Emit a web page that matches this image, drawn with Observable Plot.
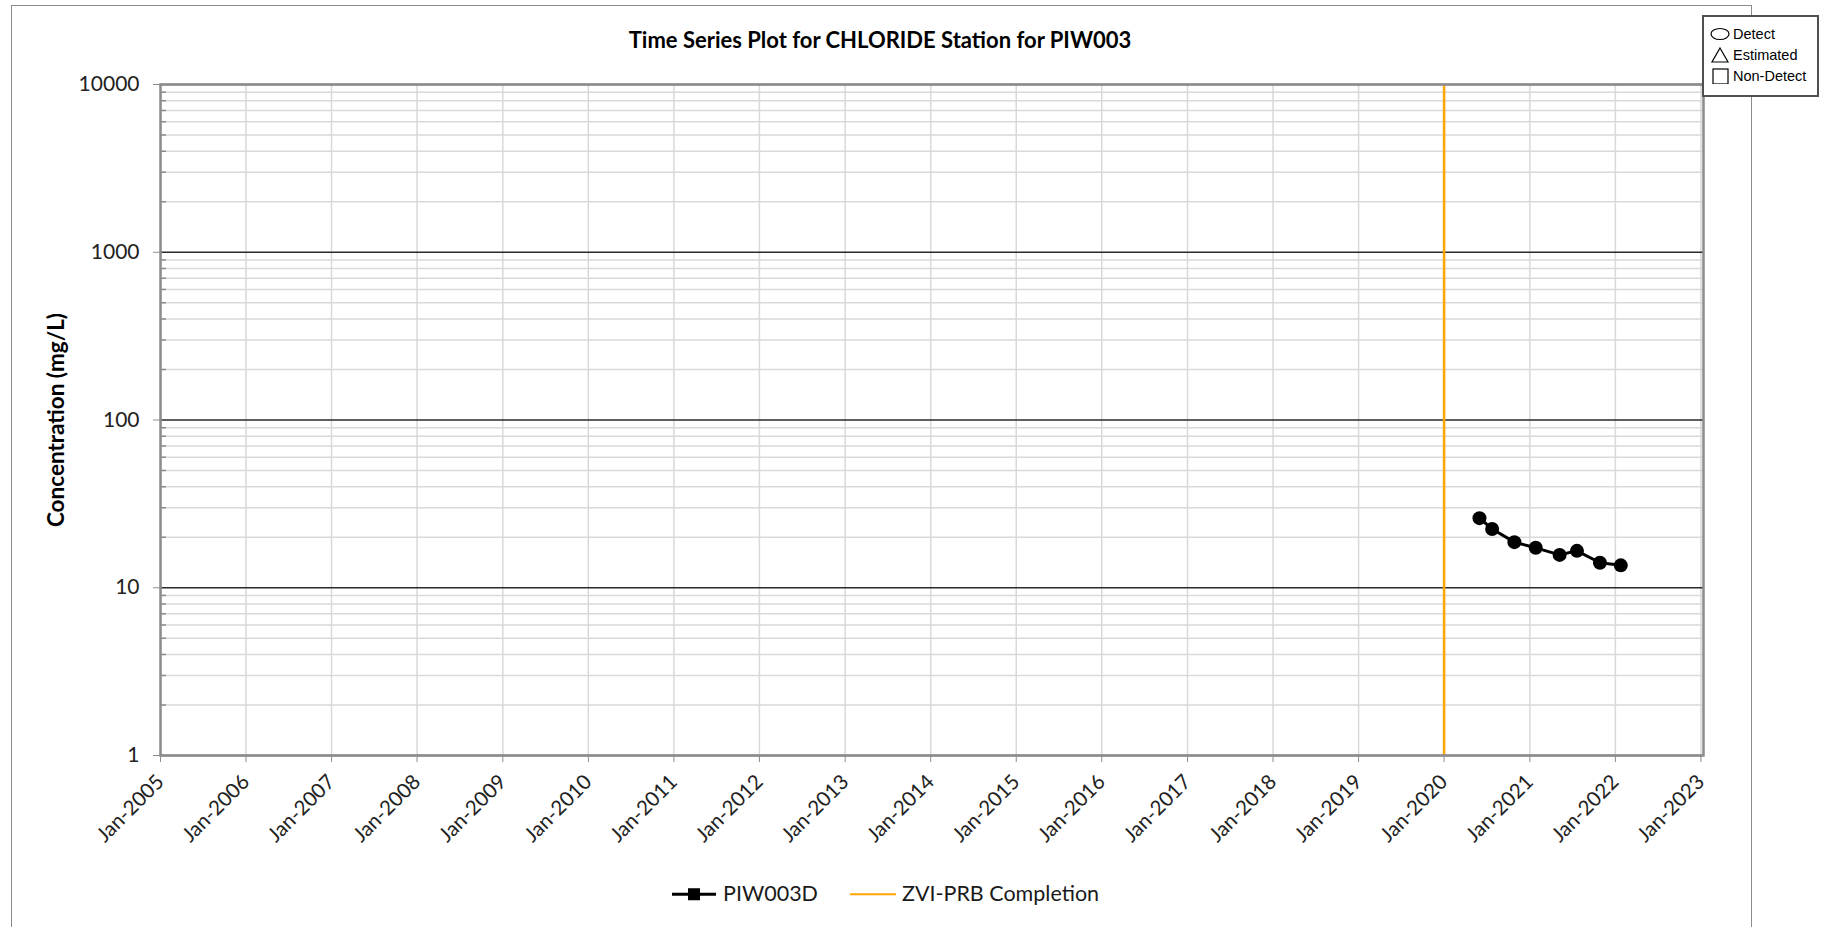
<!DOCTYPE html>
<html>
<head>
<meta charset="utf-8">
<script src="https://cdn.jsdelivr.net/npm/d3@7"></script>
<script src="https://cdn.jsdelivr.net/npm/@observablehq/plot@0.6"></script>
<style>
  html, body { margin: 0; padding: 0; background: #fff; width: 1829px; height: 927px; overflow: hidden; font-family: Lato, "Open Sans", sans-serif; }
  #wrap { position: relative; width: 1829px; height: 927px; }
  #chart { position: absolute; left: 0; top: 0; }
  #outer { position: absolute; left: 11px; top: 5px; width: 1741px; height: 940px; border: 1.5px solid #8c8c8c; box-sizing: border-box; }
  #title { position: absolute; left: 480px; width: 800px; top: 40px; transform: translateY(-50%); text-align: center; font-weight: 700; font-size: 22px; color: #000; line-height: 1; }
  #ylabel { position: absolute; left: 56px; top: 420px; transform: translate(-50%, -50%) rotate(-90deg); font-weight: 700; font-size: 22.5px; white-space: nowrap; color: #000; line-height: 1; }
  #keybox { position: absolute; left: 1702px; top: 15px; width: 117px; height: 82px; border: 2px solid #505050; box-sizing: border-box; background: #fff; font-family: "Liberation Sans", Arial, sans-serif; font-size: 14.5px; color: #000; }
  .krow { position: absolute; left: 6px; display: flex; align-items: center; gap: 3px; line-height: 1; }
  #legend { position: absolute; top: 894px; left: 671px; transform: translateY(-50%); display: flex; align-items: center; font-size: 21.5px; color: #1a1a1a; line-height: 1; }
  .litem { display: flex; align-items: center; gap: 6px; }
</style>
</head>
<body>
<div id="wrap">
  <div id="chart"></div>
  <div id="outer"></div>
  <div id="title">Time Series Plot for CHLORIDE Station for PIW003</div>
  <div id="ylabel">Concentration (mg/L)</div>
  <div id="keybox">
    <div class="krow" style="top:10px;"><svg width="20" height="14"><ellipse cx="10" cy="7" rx="9" ry="5.5" fill="none" stroke="#000" stroke-width="1.2"/></svg><span>Detect</span></div>
    <div class="krow" style="top:30px;"><svg width="20" height="16"><path d="M10,1 L18,15 L2,15 Z" fill="none" stroke="#000" stroke-width="1.2"/></svg><span>Estimated</span></div>
    <div class="krow" style="top:51px;"><svg width="20" height="16"><rect x="3" y="1" width="15" height="15" fill="none" stroke="#000" stroke-width="1.2"/></svg><span>Non-Detect</span></div>
  </div>
  <div id="legend">
    <div class="litem"><svg width="46" height="16"><line x1="1" x2="45" y1="8" y2="8" stroke="#000" stroke-width="3"/><rect x="17" y="2" width="12" height="12" fill="#000"/></svg><span>PIW003D</span></div>
    <div class="litem" style="margin-left:32px;"><svg width="46" height="16"><line x1="0" x2="46" y1="8" y2="8" stroke="#FFA500" stroke-width="2"/></svg><span>ZVI-PRB Completion</span></div>
  </div>
</div>
<script>
// ---- data ----
const sampleDates = ["2020-05-31", "2020-07-24", "2020-10-27", "2021-01-26", "2021-05-08", "2021-07-21", "2021-10-27", "2022-01-24"];
const chlorideValues = [26.0, 22.4, 18.7, 17.3, 15.7, 16.6, 14.1, 13.6];
const seriesName = "PIW003D";
const zviCompletionDates = ["2020-01-01"];
const tickYears = [2005, 2006, 2007, 2008, 2009, 2010, 2011, 2012, 2013, 2014, 2015, 2016, 2017, 2018, 2019, 2020, 2021, 2022, 2023];
const majorTicks = [1, 10, 100, 1000, 10000];
const minorMultipliers = [2, 3, 4, 5, 6, 7, 8, 9];
const xDomain = ["2005-01-01", "2023-01-12"];

// ---- build tables ----
const data = sampleDates.map((d, i) => ({date: new Date(d), value: chlorideValues[i], series: seriesName}));
const yearDates = tickYears.map(y => new Date(Date.UTC(y, 0, 1)));
const minorTicks = majorTicks.slice(0, -1).flatMap(d => minorMultipliers.map(m => d * m));
const zvi = zviCompletionDates.map(d => new Date(d));

const chart = Plot.plot({
  width: 1829,
  height: 927,
  marginLeft: 160,
  marginRight: 126,
  marginTop: 84,
  marginBottom: 172,
  style: {fontFamily: "Lato, 'Open Sans', sans-serif", color: "#222", background: "transparent"},
  x: {type: "utc", domain: xDomain.map(d => new Date(d))},
  y: {type: "log", domain: [1, 10000]},
  marks: [
    Plot.ruleX(yearDates, {stroke: "#d9d9d9", strokeWidth: 1.5}),
    Plot.ruleY(minorTicks, {stroke: "#d9d9d9", strokeWidth: 1.5}),
    Plot.ruleY(majorTicks, {stroke: "#2a2a2a", strokeWidth: 1.5}),
    Plot.ruleX(zvi, {stroke: "#FFA500", strokeWidth: 2.5}),
    Plot.line(data, {x: "date", y: "value", stroke: "#000", strokeWidth: 3}),
    Plot.dot(data, {x: "date", y: "value", r: 7, fill: "#000", stroke: "none"}),
    Plot.frame({stroke: "#8c8c8c", strokeWidth: 2.5}),
    Plot.axisX({ticks: yearDates, tickFormat: d => "Jan-" + d.getUTCFullYear(), tickRotate: -45, fontSize: 20.5, tickSize: 7, tickPadding: 16, label: null, stroke: "#8c8c8c"}),
    Plot.axisY({ticks: majorTicks, tickFormat: d => String(d), fontSize: 21, tickSize: 7, tickPadding: 14, label: null, stroke: "#8c8c8c"}),
    Plot.axisY({ticks: minorTicks, tickFormat: () => "", tickSize: -6, label: null, stroke: "#8c8c8c", strokeWidth: 1.5})
  ]
});
document.getElementById("chart").appendChild(chart);
</script>
</body>
</html>
